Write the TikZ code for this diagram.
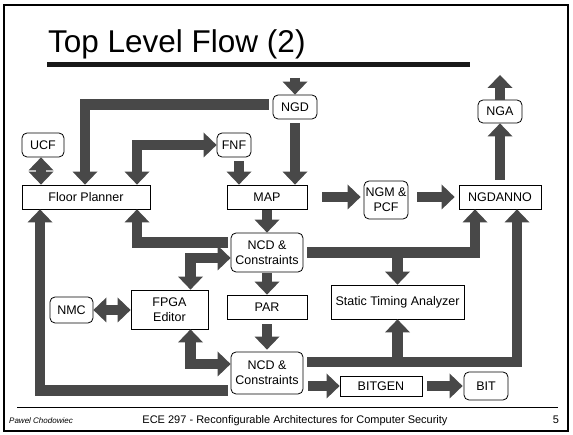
\documentclass[tikz,border=0pt]{standalone}
\usepackage{fontspec}
\setmainfont{Liberation Sans}
\usetikzlibrary{arrows.meta,calc}
\definecolor{flowgray}{RGB}{72,72,72}
\definecolor{rulegray}{RGB}{25,25,25}
\begin{document}
\begin{tikzpicture}[x=1pt,y=-1pt,
  box/.style={draw=black,line width=0.8pt,fill=white,inner sep=0pt,align=center,
              font=\fontsize{12.5}{15}\selectfont},
  rbox/.style={box,rounded corners=5pt},
  blk/.style={draw=flowgray,line width=10.5pt,line join=miter,
              -{Triangle[width=25pt,length=13pt,line width=0pt]}},
  dblk/.style={blk,{Triangle[width=25pt,length=13pt,line width=0pt]}-{Triangle[width=25pt,length=13pt,line width=0pt]}}]

% page and frame
\fill[white] (0,0) rectangle (573,435);
\useasboundingbox (0,0) rectangle (573,435);
\draw[line width=2pt] (4,5) rectangle (568,431);

% title and rules
\node[anchor=base west,inner sep=0pt,font=\fontsize{31.5}{36}\selectfont] (title) at (48,53) {Top Level Flow (2)};
\draw[line width=5pt,rulegray] (47,65) -- (470,65);
\draw[line width=1pt] (17,408) -- (558,408);

% footer
\node[anchor=base west,inner sep=0pt,font=\itshape\fontsize{8}{9}\selectfont] (author) at (9,424) {Pawel Chodowiec};
\node[anchor=base,inner sep=0pt,font=\fontsize{11}{13}\selectfont] (course) at (295,424) {ECE 297 - Reconfigurable Architectures for Computer Security};
\node[anchor=base,inner sep=0pt,font=\fontsize{11}{13}\selectfont] (page) at (556,424) {5};

% tools and files
\node[rbox,minimum width=42pt,minimum height=24pt] (UCF) at (43,145) {UCF};
\node[box,minimum width=128pt,minimum height=24pt] (FP) at (86,197) {Floor Planner};
\node[rbox,minimum width=44pt,minimum height=24pt] (NGD) at (295,107) {NGD};
\node[rbox,minimum width=34pt,minimum height=24pt] (FNF) at (234,145) {FNF};
\node[box,minimum width=80pt,minimum height=24pt] (MAP) at (267,197) {MAP};
\node[rbox,minimum width=44pt,minimum height=38pt] (NGM) at (386,200) {NGM \&\\PCF};
\node[box,minimum width=82pt,minimum height=24pt] (NGDANNO) at (500,197) {NGDANNO};
\node[rbox,minimum width=44pt,minimum height=23pt] (NGA) at (500,111.5) {NGA};
\node[rbox,minimum width=72pt,minimum height=39pt] (NCDa) at (267,252.5) {NCD \&\\Constraints};
\node[box,minimum width=77pt,minimum height=39pt] (FPGA) at (169.5,309.5) {FPGA\\Editor};
\node[box,minimum width=80pt,minimum height=24pt] (PAR) at (267,307) {PAR};
\node[box,minimum width=133pt,minimum height=34pt] (STA) at (397.5,302) {Static Timing Analyzer};
\node[rbox,minimum width=43pt,minimum height=26pt] (NMC) at (71.5,310) {NMC};
\node[rbox,minimum width=72pt,minimum height=42pt] (NCDb) at (267,373) {NCD \&\\Constraints};
\node[box,minimum width=82pt,minimum height=20pt] (BITGEN) at (381,386) {BITGEN};
\node[rbox,minimum width=44pt,minimum height=28pt] (BIT) at (486,386) {BIT};

% free ends and bend points
\coordinate (ngdIn) at (295,78);
\coordinate (ngaOut) at (500,75);
\coordinate (ucfB) at ([xshift=-2pt]UCF.south);
\coordinate (fpT) at ([xshift=51pt]FP.north);
\coordinate (fpB) at ([xshift=51pt]FP.south);
\coordinate (fpB2) at ([xshift=-46pt]FP.south);
\coordinate (fnfB) at ([xshift=5pt,yshift=-4pt]FNF.south);
\coordinate (mapR) at ([xshift=15pt]MAP.east);
\coordinate (ngmL) at ([xshift=-3pt]NGM.west);
\coordinate (ngmR) at ([xshift=9pt]NGM.east);
\coordinate (annoL) at ([xshift=-4pt]NGDANNO.west);
\coordinate (annoB1) at ([xshift=-25pt]NGDANNO.south);
\coordinate (annoB2) at ([xshift=17pt]NGDANNO.south);
\coordinate (ncdaL1) at ([xshift=-3pt,yshift=10pt]NCDa.west);
\coordinate (ncdaL2) at ([yshift=-5.5pt]NCDa.west);
\coordinate (ncdaR) at ([xshift=4pt]NCDa.east);
\coordinate (fpgaT) at ([xshift=21pt]FPGA.north);
\coordinate (fpgaB) at ([xshift=21pt]FPGA.south);
\coordinate (ncdbL1) at ([yshift=9pt]NCDb.west);
\coordinate (ncdbL2) at ([xshift=-3pt,yshift=-17.5pt]NCDb.west);
\coordinate (ncdbR) at ([xshift=4pt,yshift=11pt]NCDb.east);
\coordinate (ncdbR2) at ([xshift=5pt]NCDb.east);

% flow arrows
\draw[blk] (ngdIn) -- (NGD.north);
\draw[blk] ([xshift=-4pt,yshift=2.5pt]NGD.west) -| ([xshift=-1pt]FP.north);
\draw[blk] ([yshift=-4pt]NGD.south) -- (NGD.south |- MAP.north);
\draw[dblk] (ucfB) -- (ucfB |- FP.north);
\draw[dblk] (fpT) |- (FNF.west);
\draw[blk] (fnfB) -- (fnfB |- MAP.north);
\draw[blk] (mapR) -- (mapR -| ngmL);
\draw[blk] (ngmR |- annoL) -- (annoL);
\draw[blk] ([yshift=5pt]NGDANNO.north) -- (NGA.south);
\draw[blk] (NGA.north) -- (ngaOut);
\draw[blk] ([yshift=-1pt]MAP.south) -- (NCDa.north);
\draw[blk] (ncdaL1) -| (fpB);
\draw[dblk] (fpgaT) |- (ncdaL2);
\draw[blk] ([yshift=-1pt]NCDa.south) -- (PAR.north);
\draw[blk] (ncdaR) -| (annoB1);
\draw[blk] (ncdaR -| STA.north) -- (STA.north);
\draw[blk] ([yshift=-5pt]PAR.south) -- ([yshift=2pt]NCDb.north);
\draw[dblk] (NMC.east) -- (NMC.east -| FPGA.west);
\draw[dblk] (fpgaB) |- (ncdbL1);
\draw[blk] (ncdbL2) -| (fpB2);
\draw[blk] (ncdbR) -| (annoB2);
\draw[blk] (ncdbR -| STA.south) -- (STA.south);
\draw[blk] (ncdbR2 |- BITGEN.west) -- (BITGEN.west);
\draw[blk] ([xshift=5pt]BITGEN.east) -- ([xshift=-1pt]BIT.west);
\end{tikzpicture}
\end{document}
